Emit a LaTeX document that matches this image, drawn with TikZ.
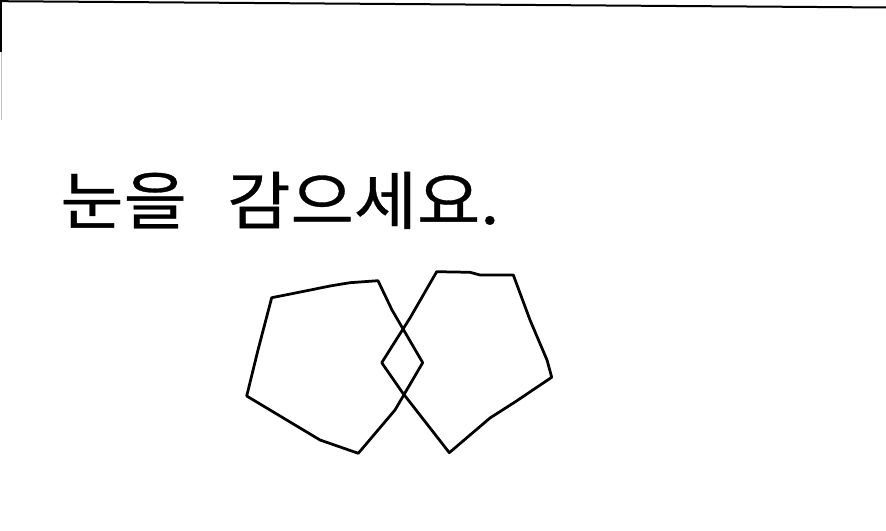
\documentclass[tikz,border=0pt]{standalone}
\usepackage{fontspec}
\newfontfamily\kofont[FakeStretch=1.09,FakeBold=0.5]{Noto Sans CJK KR}
\usepackage{tikz}

\begin{document}
\begin{tikzpicture}[x=0.2mm,y=-0.2mm]
\useasboundingbox (0,0) rectangle (886,531);

% Scan edges (top rule and left margin)
\draw[line width=0.4mm] (0,1.2) -- (886,7.5);
\draw[line width=0.3mm] (1,0) -- (1,52);
\draw[line width=0.2mm,black!25] (1,52) -- (1,120);

% Instruction
\node[anchor=base west,inner sep=0pt,font=\kofont\fontsize{35.9}{40}\selectfont] (instr) at (60,224) {눈을\hspace{0.64em}감으세요.};

% Left pentagon
\draw[line width=0.55mm,line join=round] (271.7,297.7) -- (303,291.5) -- (330,286) -- (350,282.7) -- (378,280.7)
  -- (392,310) -- (422.7,362.7) -- (395,410) -- (358.3,453.3) -- (320,440) -- (290,422) -- (246.7,396)
  -- (258,350) -- cycle;

% Right pentagon
\draw[line width=0.55mm,line join=round] (436.7,271.7) -- (470,272.3) -- (480,275) -- (513.3,275)
  -- (530,320) -- (547,360) -- (551.7,377.3) -- (515,402) -- (490,418) -- (449.3,452.7)
  -- (402,392) -- (381.7,362.7) -- (410,318) -- cycle;
\end{tikzpicture}
\end{document}
